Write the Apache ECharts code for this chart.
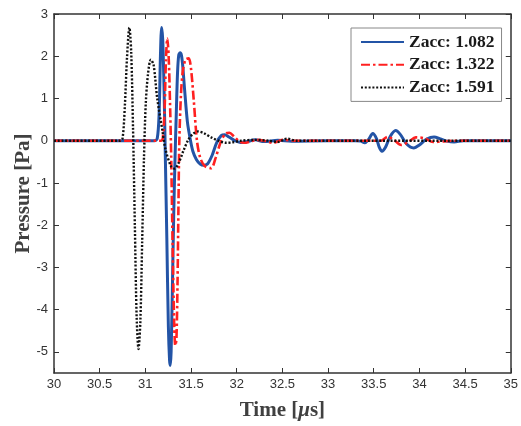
<!DOCTYPE html>
<html>
<head>
<meta charset="utf-8">
<script src="https://cdn.jsdelivr.net/npm/echarts@6/dist/echarts.min.js"></script>
<style>html,body{margin:0;padding:0;background:#fff}#c{width:521px;height:426px}</style>
</head>
<body>
<div id="c"></div>
<script>
// ---- Data ----
const seriesNames = ['Zacc: 1.082', 'Zacc: 1.322', 'Zacc: 1.591'];
const xTicks = [30, 30.5, 31, 31.5, 32, 32.5, 33, 33.5, 34, 34.5, 35];
const yTicks = [-5, -4, -3, -2, -1, 0, 1, 2, 3];

const blueT = [30, 31.10, 31.13, 31.15, 31.165, 31.178, 31.19, 31.205, 31.218, 31.235, 31.252, 31.265, 31.273, 31.282, 31.295, 31.31, 31.325, 31.338, 31.352, 31.365, 31.38, 31.395, 31.41, 31.43, 31.46, 31.49, 31.52, 31.56, 31.6, 31.64, 31.68, 31.73, 31.78, 31.83, 31.87, 31.92, 31.98, 32.04, 32.12, 32.2, 32.3, 32.45, 32.6, 33.0, 33.3, 33.36, 33.40, 33.44, 33.49, 33.53, 33.56, 33.59, 33.63, 33.68, 33.74, 33.79, 33.85, 33.9, 33.94, 34.0, 34.08, 34.16, 34.23, 34.3, 34.38, 34.48, 35];
const blueP = [0, 0, 0.05, 0.6, 2.0, 2.68, 2.4, 1.2, -0.3, -2.3, -4.4, -5.2, -5.32, -5.0, -3.6, -1.8, -0.4, 0.6, 1.6, 2.02, 2.08, 2.02, 1.75, 1.2, 0.45, 0.05, -0.25, -0.45, -0.55, -0.58, -0.55, -0.35, -0.05, 0.12, 0.14, 0.08, 0.0, -0.04, -0.02, 0.02, -0.02, 0.01, -0.01, 0, 0, -0.01, -0.05, 0.02, 0.17, 0.05, -0.15, -0.25, -0.15, 0.1, 0.24, 0.15, -0.05, -0.15, -0.17, -0.1, 0.04, 0.09, 0.04, -0.01, -0.03, 0, 0];

const redT = [30, 31.17, 31.19, 31.21, 31.225, 31.24, 31.255, 31.27, 31.283, 31.298, 31.315, 31.328, 31.34, 31.352, 31.362, 31.372, 31.39, 31.41, 31.44, 31.475, 31.5, 31.53, 31.565, 31.6, 31.65, 31.72, 31.77, 31.83, 31.88, 31.92, 31.97, 32.03, 32.08, 32.15, 32.22, 32.3, 32.4, 32.5, 32.65, 33.0, 33.5, 33.58, 33.65, 33.72, 33.8, 33.88, 33.96, 34.05, 34.15, 34.25, 34.35, 35];
const redP = [0, 0, 0.05, 0.7, 1.9, 2.42, 2.0, 0.9, -0.4, -2.4, -4.3, -4.85, -4.7, -3.4, -1.6, 0.0, 1.1, 1.65, 1.92, 1.95, 1.7, 0.95, 0.0, -0.4, -0.6, -0.65, -0.4, 0.0, 0.17, 0.19, 0.1, -0.02, -0.05, -0.02, 0.02, 0.0, -0.05, 0.02, 0, 0, 0, 0.0, 0.09, 0.02, -0.1, -0.03, 0.08, 0.06, -0.03, -0.02, 0, 0];

const blackT = [30, 30.72, 30.75, 30.775, 30.8, 30.825, 30.845, 30.865, 30.885, 30.905, 30.925, 30.945, 30.965, 30.985, 31.005, 31.03, 31.06, 31.09, 31.13, 31.185, 31.22, 31.28, 31.32, 31.36, 31.42, 31.47, 31.52, 31.58, 31.64, 31.72, 31.8, 31.88, 31.95, 32.05, 32.2, 32.35, 32.45, 32.55, 32.65, 33.0, 35];
const blackP = [0, 0, 0.05, 0.8, 2.0, 2.68, 2.1, 0.3, -2.0, -4.2, -4.93, -4.3, -2.4, -0.4, 0.9, 1.6, 1.92, 1.8, 1.0, 0.26, -0.2, -0.6, -0.66, -0.55, -0.22, 0.02, 0.16, 0.22, 0.18, 0.08, 0.0, -0.05, -0.04, 0.0, 0.02, 0.0, -0.03, 0.05, 0.0, 0, 0];

// ---- Chart ----
const zip = (t, p) => t.map((v, i) => [v, p[i]]);
const axisColor = '#333';
const chart = echarts.init(document.getElementById('c'), null, {renderer: 'canvas'});

const commonX = {
  type: 'value', min: xTicks[0], max: xTicks[xTicks.length - 1], interval: 0.5,
  axisLine: {show: true, onZero: false, lineStyle: {color: axisColor, width: 1.5}},
  axisTick: {show: true, inside: true, length: 5, lineStyle: {color: axisColor, width: 1}},
  splitLine: {show: false}
};
const commonY = {
  type: 'value', min: -5.5, max: 3,
  axisLine: {show: true, onZero: false, lineStyle: {color: axisColor, width: 1.5}},
  axisTick: {show: true, inside: true, length: 5, customValues: yTicks, lineStyle: {color: axisColor, width: 1}},
  splitLine: {show: false}
};

chart.setOption({
  backgroundColor: '#fff',
  animation: false,
  grid: {left: 54, right: 7, top: 14, bottom: 53, containLabel: false},
  legend: {
    orient: 'vertical', left: 351, top: 28,
    padding: [5, 7, 5, 9], itemGap: 4.7, itemWidth: 43, itemHeight: 14,
    borderColor: '#888', borderWidth: 1, backgroundColor: '#fff',
    itemStyle: {opacity: 0},
    textStyle: {fontFamily: 'Liberation Serif', fontWeight: 'bold', fontSize: 17.5, color: '#1a1a1a'},
    data: seriesNames
  },
  xAxis: [
    Object.assign({}, commonX, {
      position: 'bottom',
      axisLabel: {show: true, margin: 5, color: axisColor, fontFamily: 'Liberation Sans', fontSize: 13},
      name: '{b|Time [}{i|μ}{b|s]}', nameLocation: 'middle', nameGap: 27, nameMoveOverlap: false,
      nameTextStyle: {
        rich: {
          b: {fontFamily: 'Liberation Serif', fontWeight: 'bold', fontSize: 21, color: '#404040'},
          i: {fontFamily: 'Liberation Serif', fontWeight: 'bold', fontStyle: 'italic', fontSize: 21, color: '#404040'}
        }
      }
    }),
    Object.assign({}, commonX, {position: 'top', axisLabel: {show: false}})
  ],
  yAxis: [
    Object.assign({}, commonY, {
      position: 'left',
      axisLabel: {show: true, margin: 6, customValues: yTicks, color: axisColor, fontFamily: 'Liberation Sans', fontSize: 13},
      name: 'Pressure [Pa]', nameLocation: 'middle', nameGap: 20, nameRotate: 90, nameMoveOverlap: false,
      nameTextStyle: {fontFamily: 'Liberation Serif', fontWeight: 'bold', fontSize: 21, color: '#404040'}
    }),
    Object.assign({}, commonY, {position: 'right', axisLabel: {show: false}})
  ],
  series: [
    {name: seriesNames[0], type: 'line', data: zip(blueT, blueP), showSymbol: false, symbol: 'none', smooth: 0.3,
     lineStyle: {color: '#2354a6', width: 3}, itemStyle: {color: '#2354a6'}, z: 2},
    {name: seriesNames[1], type: 'line', data: zip(redT, redP), showSymbol: false, symbol: 'none', smooth: 0.3,
     lineStyle: {color: '#ff2020', width: 2.6, type: [9, 3, 2.5, 3]}, itemStyle: {color: '#ff2020'}, z: 3},
    {name: seriesNames[2], type: 'line', data: zip(blackT, blackP), showSymbol: false, symbol: 'none', smooth: 0.3,
     lineStyle: {color: '#111', width: 2.4, type: [2, 1.8]}, itemStyle: {color: '#111'}, z: 4}
  ]
});
</script>
</body>
</html>
